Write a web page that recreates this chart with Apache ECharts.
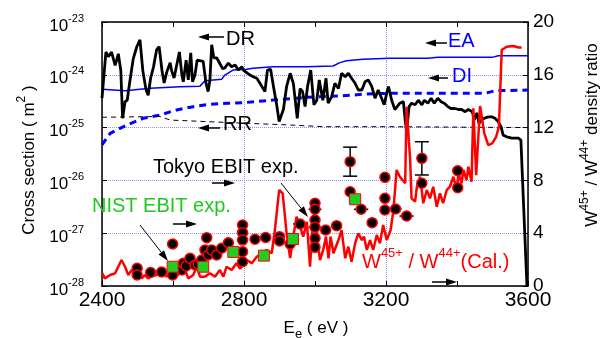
<!DOCTYPE html>
<html>
<head>
<meta charset="UTF-8">
<title>W45+/W44+ cross sections</title>
<script src="https://cdn.jsdelivr.net/npm/echarts@6/dist/echarts.min.js"></script>
<style>
    html, body { margin: 0; padding: 0; background: #fff; }
    #chart { width: 608px; height: 338px; }
</style>
</head>
<body>
<div id="chart"></div>
<script>
// ---- data ----
// DR cross section, m^2 (left axis)
var drE = [2400,2411,2418,2427,2437,2446,2453,2458,2465,2471,2479,2488,2498,2507,2515,2524,2530,2537,2545,2554,2561,2569,2575,2582,2592,2596,2603,2618,2625,2629,2637,2643,2650,2655,2662,2668,2685,2693,2699,2704,2709,2715,2723,2740,2746,2756,2765,2775,2784,2794,
    2798,2817,2826,2836,2845,2859,2866,2875,2883,2892,2899,2911,2920,2930,2939,2950,2958,2965,2972,2979,2988,2997,3005,3012,3022,3031,3037,3047,3056,3066,3075,3085,3094,3103,3113,3122,3132,3141,3150,3160,3169,3178,3195,3202,3207,
    3216,3225,3239,3249,3254,3258,3265,3272,3282,3291,3301,3308,3318,3327,3336,3346,3355,3364,3374,3383,3394,3404,3413,3423,3432,3443,3449,3456,3462,3470,3477,3488,3498,3507,3516,3524,3530,3540,3554,3573,3580,3597];
var drVal = [3.6e-25,2.7e-24,2.2e-24,2.7e-24,1.5e-24,2.5e-24,1.2e-24,1.5e-25,3.1e-25,3.3e-25,8e-25,2.0e-24,3.4e-24,4.6e-24,1.2e-24,5.2e-25,4.1e-25,8.7e-25,1.4e-24,3.0e-24,3.4e-24,1.2e-24,7e-25,1.1e-24,1.7e-24,1.2e-24,8.7e-25,2.7e-24,1.0e-24,7.4e-25,1.9e-24,8e-25,2.6e-24,7.4e-25,1.0e-24,1.9e-24,1.8e-24,6.9e-25,4.8e-25,8e-25,3.7e-24,2.1e-24,2.1e-24,1.3e-24,1.35e-24,1.67e-24,1.42e-24,1.53e-24,1.23e-24,1.42e-24,
    1.23e-24,9.9e-25,9.2e-25,8.6e-25,6.9e-25,4.8e-25,1.23e-24,1.27e-24,6.0e-25,2.7e-25,1.3e-25,2.2e-25,6.0e-25,1.07e-24,6.9e-25,1.5e-25,5.5e-25,4.8e-25,2.5e-25,6.0e-25,1.23e-24,2.7e-25,3.3e-25,8e-25,3.3e-25,8.6e-25,2.9e-25,3.85e-25,6.9e-25,5.5e-25,1.07e-24,9.2e-25,1.07e-24,8.6e-25,6.9e-25,5.15e-25,5.15e-25,7.4e-25,8e-25,6.0e-25,3.6e-25,5.15e-25,2.7e-25,4.5e-25,6.0e-25,
    3.3e-25,2.2e-25,2.9e-25,3.1e-25,1.4e-25,8.4e-26,2.5e-25,2.9e-25,2.7e-25,3.3e-25,2.7e-25,3.3e-25,2.9e-25,3.6e-25,2.9e-25,3.6e-25,3.1e-25,2.9e-25,2.5e-25,2.3e-25,2.3e-25,2.2e-25,2.2e-25,2.0e-25,2.2e-25,2.0e-25,1.4e-25,1.9e-25,1.2e-25,1.4e-25,1.5e-25,1.6e-25,1.6e-25,1.5e-25,1.3e-25,1.04e-25,7.2e-26,6.7e-26,6.3e-26,6.3e-26,5.8e-26,1e-28];

// EA (blue thin)
var eaE   = [2400,2465,2535,2620,2676,2690,2737,2746,2769,2808,2825,2882,2977,3051,3070,3089,3135,3211,3318,3347,3499,3516,3600];
var eaVal = [5.3e-25,5.0e-25,5.55e-25,5.96e-25,6.1e-25,7.7e-25,8.2e-25,9.9e-25,1.23e-24,1.27e-24,1.33e-24,1.42e-24,1.42e-24,1.47e-24,1.7e-24,1.85e-24,1.97e-24,2.05e-24,2.05e-24,2.14e-24,2.14e-24,2.3e-24,2.3e-24];

// DI (blue thick dashed)
var diE   = [2400,2423,2470,2516,2563,2610,2657,2704,2751,2798,2882,2977,3070,3146,3211,3290,3386,3479,3507,3600];
var diVal = [4.7e-26,7.8e-26,1.12e-25,1.5e-25,1.73e-25,2.16e-25,2.49e-25,2.76e-25,2.88e-25,2.96e-25,3.33e-25,3.75e-25,3.97e-25,4.33e-25,4.47e-25,4.47e-25,4.47e-25,4.47e-25,5.0e-25,5.15e-25];

// RR (black thin dashed)
var rrE   = [2400,2563,2592,2704,2789,2930,3023,3211,3600];
var rrVal = [1.57e-25,1.62e-25,1.39e-25,1.29e-25,1.22e-25,1.12e-25,1.04e-25,1.04e-25,1.0e-25];

// calculated W45+/W44+ ratio (right axis)
var ratioE = [2400,2408,2423,2437,2455,2465,2474,2484,2493,2502,2512,2521,2530,2541,2554,2568,2582,2596,2606,2620,2634,2643,2657,2667,2676,2690,2704,2718,2732,2742,2751,2765,2779,2789,2808,2822,2836,2850,2864,2878,2887,2899,2909,2920,2930,2939,2948,2958,2967,2977,2986,2994,3000,3007,3014,3023,3031,3038,3044,3052,3066,3075,3085,3094,3103,3113,3122,3132,3138,3146,3155,3164,3174,3183,3192,3202,3206,3213,3221,3230,3239,3254,3258,3268,3272,3282,3287,3296,3305,3315,3324,3333,3343,3352,3361,3371,3380,3390,3399,3404,3413,3418,3427,3432,3441,3446,3454,3465,3477,3488,3499,3510,3518,3526,3540,3559,3573,3582];
var ratioVal = [1.0,0.58,0.83,0.96,1.97,1.46,0.83,1.21,0.76,1.08,0.58,0.83,0.58,0.76,0.83,1.21,0.71,1.21,0.71,0.96,1.21,0.58,0.83,1.46,0.71,0.71,0.96,0.71,1.21,0.71,1.46,1.21,1.72,1.3,1.97,1.72,2.22,2.48,2.73,2.48,4.24,7.27,7.02,3.99,2.12,3.74,5.25,4.49,3.74,4.87,1.46,4.75,6.01,3.48,1.97,2.73,3.74,2.1,3.74,2.48,3.48,4.24,2.1,2.98,1.84,3.23,3.99,3.48,3.74,2.73,3.48,2.73,3.86,3.23,4.62,3.48,3.36,4.24,5.76,8.79,8.28,7.78,13.58,9.55,6.64,6.39,7.52,8.28,6.27,7.27,6.64,7.52,6.01,7.02,6.27,7.27,7.52,8.28,7.27,8.54,7.78,8.79,8.03,9.04,7.9,13.46,8.4,13.64,11.57,10.68,10.81,11.29,12.05,17.88,18.13,18.18,18.07,18.07];

// Tokyo EBIT measurements (right axis) with error half-widths
var tokyoE     = [2499,2499,2537,2568,2599,2599,2625,2629,2637,2648,2662,2671,2681,2690,2695,2699,2709,2723,2737,2756,2796,2796,2796,2796,2796,2831,2861,2900,2900,2930,2958,3000,3000,3000,3000,3000,3000,3030,3061,3099,3099,3130,3161,3197,3197,3197,3227,3258,3301,3301,3402,3402];
var tokyoRatio = [1.34,0.83,1.02,1.06,3.18,0.83,1.21,1.72,1.52,2.1,1.59,1.67,1.97,2.73,3.66,2.35,2.73,2.35,2.86,3.28,4.62,4.04,3.48,2.6,1.84,3.54,3.67,3.74,3.41,3.18,4.7,6.27,5.81,5.0,4.45,3.61,2.93,4.24,4.57,9.42,7.14,5.81,4.8,8.23,6.64,5.76,5.83,5.3,9.67,7.78,8.73,7.45];
var tokyoXErr  = [14,0,0,0,0,0,0,0,0,0,0,0,0,0,13,0,0,0,0,14,14,0,14,0,0,14,14,14,0,15,20,0,18,0,18,0,0,15,15,0,0,20,15,0,0,0,17,20,0,0,0,0];
var tokyoYErr  = [0,0,0,0,0,0,0,0,0,0,0,0,0,0,0,0,0,0,0,0,0,0,0,0,0,0,0,0,0,0,0,0,0,0,0,0,0,0,0,1.1,0,0,0,0,0,0,0,0,1.26,0,0,0];

// NIST EBIT measurements (right axis)
var nistE     = [2599,2685,2770,2856,2938,3113];
var nistRatio = [1.46,1.46,2.58,2.3,3.56,6.57];

// left axis range, powers of ten (m^2)
var yMinExp = -28, yMaxExp = -23;

// ---- chart ----
var FONT = '"Liberation Sans", Arial, sans-serif';
// the log axis loses precision near 1e-28, so cross sections are fed in units of 1e-28 m^2
var UNIT = Math.pow(10, -yMinExp);
function zip(a, b) { return a.map(function (v, i) { return [v, b[i]]; }); }
function zipScaled(a, b) { return a.map(function (v, i) { return [v, b[i] * UNIT]; }); }

function arrow(x1, y1, x2, y2, w) {
    var ang = Math.atan2(y2 - y1, x2 - x1), L = 11, H = 3.5;
    var bx = x2 - L * Math.cos(ang), by = y2 - L * Math.sin(ang);
    var px = -Math.sin(ang) * H, py = Math.cos(ang) * H;
    return [
        {type: 'line', z: 100, shape: {x1: x1, y1: y1, x2: bx, y2: by}, style: {stroke: '#000', lineWidth: w || 1.5}},
        {type: 'polygon', z: 100, shape: {points: [[x2, y2], [bx + px, by + py], [bx - px, by - py]]}, style: {fill: '#000'}}
    ];
}
function label(x, y, text, color, rich) {
    return {type: 'text', z: 100, x: x, y: y,
        style: {text: text, fill: color, font: '20px ' + FONT, verticalAlign: 'middle', rich: rich}};
}
var supRich = {
    b: {fontSize: 20, fontFamily: FONT, lineHeight: 30, fill: '#f00'},
    s: {fontSize: 13, fontFamily: FONT, verticalAlign: 'top', fill: '#f00'}
};
var titleRich = {
    b: {fontSize: 17, fontFamily: FONT, lineHeight: 26, fill: '#000'},
    s: {fontSize: 12, fontFamily: FONT, verticalAlign: 'top', fill: '#000'},
    d: {fontSize: 13, fontFamily: FONT, verticalAlign: 'bottom', fill: '#000'}
};
function title(x, y, text, rot) {
    return {type: 'text', z: 100, x: x, y: y, rotation: rot,
        style: {text: text, align: 'center', verticalAlign: 'middle', rich: titleRich}};
}

var graphics = [].concat(
    arrow(224, 37, 198, 37), [label(226, 39, 'DR', '#000')],
    arrow(220, 128, 198, 128), [label(223, 124, 'RR', '#000')],
    arrow(447, 43, 425, 43), [label(448, 41, 'EA', '#0000ff')],
    arrow(448, 78, 428, 78), [label(452, 76, 'DI', '#0000ff')],
    [label(153, 167, 'Tokyo EBIT exp.', '#000')],
    arrow(212, 183, 235, 183),
    arrow(281, 183, 308, 217, 1),
    [label(92, 206, 'NIST EBIT exp.', '#20c820')],
    arrow(173, 224, 197, 224),
    arrow(140, 225, 168, 261, 1),
    [label(362, 262, '{b|W}{s|45+}{b| / W}{s|44+}{b|(Cal.)}', '#f00', supRich)],
    arrow(432, 282, 457, 282),
    [title(29, 160, '{b|Cross section ( m}{s|2}{b| )}', Math.PI / 2),
     title(592, 135, '{b|W}{s|45+}{b| / W}{s|44+}{b| density ratio}', Math.PI / 2),
     title(316, 328, '{b|E}{d|e}{b| ( eV )}', 0)]
);

var errData = [];
for (var i = 0; i < tokyoE.length; i++) {
    if (tokyoXErr[i] > 0 || tokyoYErr[i] > 0) {
        errData.push([tokyoE[i], tokyoRatio[i], tokyoXErr[i], tokyoYErr[i]]);
    }
}

var chart = echarts.init(document.getElementById('chart'));
var axisBlack = {show: true, onZero: false, lineStyle: {color: '#000', width: 1.5}};
var gridDots = {show: true, lineStyle: {color: '#8c8cff', type: 'dotted', width: 1}};

chart.setOption({
    animation: false,
    textStyle: {fontFamily: FONT},
    grid: {left: 102, right: 80, top: 22, bottom: 52, containLabel: false, outerBoundsMode: 'none'},
    xAxis: [{
        type: 'value', min: 2400, max: 3600, interval: 400, position: 'bottom',
        axisLine: axisBlack,
        axisTick: {inside: true, length: 5, lineStyle: {color: '#000'}},
        minorTick: {show: true, splitNumber: 2, length: 5, lineStyle: {color: '#000'}},
        axisLabel: {color: '#000', fontSize: 21, margin: 4, fontFamily: FONT,
            formatter: function (v) { return String(v); }},
        splitLine: gridDots
    }, {
        type: 'value', min: 2400, max: 3600, interval: 400, position: 'top',
        axisLine: axisBlack,
        axisTick: {inside: true, length: 5, lineStyle: {color: '#000'}},
        minorTick: {show: true, splitNumber: 2, length: 5, lineStyle: {color: '#000'}},
        axisLabel: {show: false}, splitLine: {show: false}
    }],
    yAxis: [{
        type: 'log', logBase: 10,
        min: Math.pow(10, yMinExp) * UNIT, max: Math.pow(10, yMaxExp) * UNIT, position: 'left',
        axisLine: axisBlack,
        axisTick: {inside: true, length: 5, lineStyle: {color: '#000'}},
        axisLabel: {
            margin: 18, padding: [8, 0, 0, 0], showMinLabel: true, showMaxLabel: true,
            formatter: function (v) {
                return '{b|10}{s|' + (Math.round(Math.log10(v)) + yMinExp) + '}';
            },
            rich: {
                b: {fontSize: 17, fontFamily: FONT, lineHeight: 26, color: '#000'},
                s: {fontSize: 11, fontFamily: FONT, verticalAlign: 'top', color: '#000'}
            }
        },
        splitLine: gridDots
    }, {
        type: 'value', min: 0, max: 20, interval: 4, position: 'right',
        axisLine: axisBlack,
        axisTick: {inside: true, length: 5, lineStyle: {color: '#000'}},
        axisLabel: {color: '#000', fontSize: 19, margin: 5, fontFamily: FONT, showMinLabel: true},
        splitLine: {show: false}
    }],
    series: [
        {name: 'DI', type: 'line', yAxisIndex: 0, showSymbol: false, data: zipScaled(diE, diVal),
            lineStyle: {color: '#0000ff', width: 3, type: [7, 5]}},
        {name: 'EA', type: 'line', yAxisIndex: 0, showSymbol: false, data: zipScaled(eaE, eaVal),
            lineStyle: {color: '#0000ff', width: 1.5}},
        {name: 'RR', type: 'line', yAxisIndex: 0, showSymbol: false, data: zipScaled(rrE, rrVal),
            lineStyle: {color: '#000', width: 1, type: [5, 4]}},
        {name: 'DR', type: 'line', yAxisIndex: 0, showSymbol: false, data: zipScaled(drE, drVal),
            lineStyle: {color: '#000', width: 2.8}},
        {name: 'ratio', type: 'line', yAxisIndex: 1, showSymbol: false, data: zip(ratioE, ratioVal),
            lineStyle: {color: '#ff0000', width: 2.5}},
        {name: 'err', type: 'custom', yAxisIndex: 1, data: errData, z: 3,
            renderItem: function (params, api) {
                var x = api.value(0), y = api.value(1), xe = api.value(2), ye = api.value(3);
                var st = {stroke: '#000', lineWidth: 1.5};
                var kids = [];
                if (xe > 0) {
                    var a = api.coord([x - xe, y]), b = api.coord([x + xe, y]);
                    kids.push({type: 'line', shape: {x1: a[0], y1: a[1], x2: b[0], y2: b[1]}, style: st});
                }
                if (ye > 0) {
                    var t = api.coord([x, y + ye]), d = api.coord([x, y - ye]);
                    kids.push({type: 'line', shape: {x1: t[0], y1: t[1], x2: d[0], y2: d[1]}, style: st});
                    kids.push({type: 'line', shape: {x1: t[0] - 7, y1: t[1], x2: t[0] + 7, y2: t[1]}, style: st});
                    kids.push({type: 'line', shape: {x1: d[0] - 7, y1: d[1], x2: d[0] + 7, y2: d[1]}, style: st});
                }
                return {type: 'group', children: kids};
            }},
        {name: 'Tokyo EBIT', type: 'scatter', yAxisIndex: 1, z: 4, symbolSize: 10,
            data: zip(tokyoE, tokyoRatio),
            itemStyle: {color: '#000', borderColor: '#ff0000', borderWidth: 1.5, opacity: 1}},
        {name: 'NIST EBIT', type: 'scatter', yAxisIndex: 1, z: 5, symbol: 'rect', symbolSize: 11,
            data: zip(nistE, nistRatio),
            itemStyle: {color: '#22cc22', borderColor: '#ff0000', borderWidth: 1, opacity: 1}}
    ],
    graphic: graphics
});
</script>
</body>
</html>
